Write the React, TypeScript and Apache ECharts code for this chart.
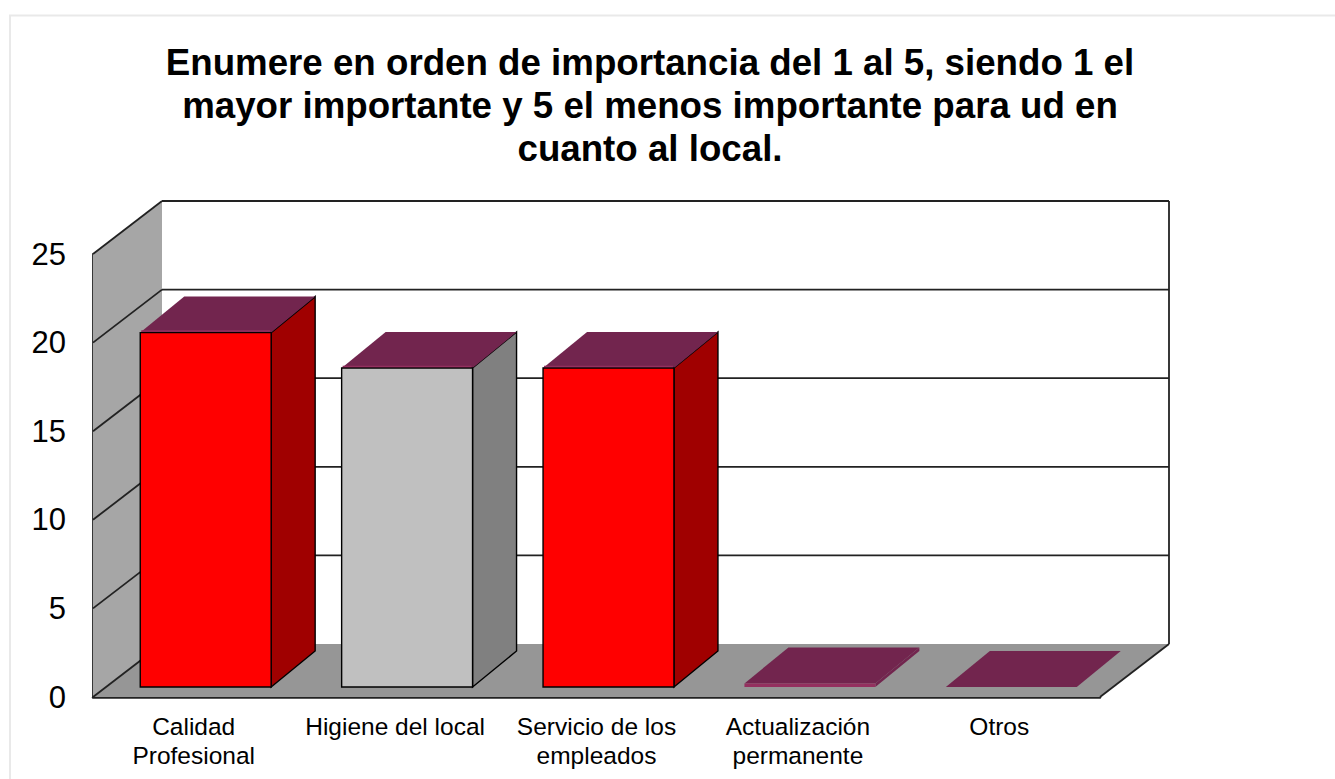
import React, { useEffect, useRef } from "react";
import * as echarts from "echarts";

const categories = ["Calidad\nProfesional", "Higiene del local", "Servicio de los\nempleados", "Actualización\npermanente", "Otros"];
const values = [20, 18, 18, 0.2, 0];
const frontColors = ["#ff0000", "#c0c0c0", "#ff0000", "#94305f", "#94305f"];
const sideColors = ["#a00000", "#808080", "#a00000", "#72254e", "#72254e"];
const yTicks = [0, 5, 10, 15, 20, 25];
const titleText = "Enumere en orden de importancia del 1 al 5, siendo 1 el\nmayor importante y 5 el menos importante para ud en\ncuanto al local.";

const FONT = "'Liberation Sans', Arial, sans-serif";
const WALL_DX = 69, WALL_DY = -53;
const BAR_DX = 44, BAR_DY = -36;
const BAR_OFF_X = 12, BAR_OFF_Y = -10;
const BAR_RATIO = 0.65;
const INK = "#222222";

function renderWalls(_: any, api: any) {
  const size = api.size([1, 0])[0];
  const c0 = api.coord([0, 0]);
  const cTop = api.coord([0, yTicks[yTicks.length - 1]]);
  const cEnd = api.coord([categories.length - 1, 0]);
  const x0 = c0[0] - size / 2;
  const x1 = cEnd[0] + size / 2;
  const y0 = c0[1];
  const yT = cTop[1];
  const children: any[] = [
    { type: "polygon", shape: { points: [[x0 + WALL_DX, yT + WALL_DY], [x1 + WALL_DX, yT + WALL_DY], [x1 + WALL_DX, y0 + WALL_DY], [x0 + WALL_DX, y0 + WALL_DY]] }, style: { fill: "#ffffff" } },
    { type: "polygon", shape: { points: [[x0, yT], [x0 + WALL_DX, yT + WALL_DY], [x0 + WALL_DX, y0 + WALL_DY], [x0, y0]] }, style: { fill: "#a6a6a6" } },
    { type: "polygon", shape: { points: [[x0, y0], [x0 + WALL_DX, y0 + WALL_DY], [x1 + WALL_DX, y0 + WALL_DY], [x1, y0]] }, style: { fill: "#969696" } },
  ];
  yTicks.forEach((t) => {
    const y = api.coord([0, t])[1];
    children.push({ type: "line", shape: { x1: x0, y1: y, x2: x0 + WALL_DX, y2: y + WALL_DY }, style: { stroke: INK, lineWidth: 1.8 } });
    if (t > 0) {
      children.push({ type: "line", shape: { x1: x0 + WALL_DX, y1: y + WALL_DY, x2: x1 + WALL_DX, y2: y + WALL_DY }, style: { stroke: INK, lineWidth: 1.8 } });
    }
  });
  children.push({ type: "line", shape: { x1: x1 + WALL_DX, y1: yT + WALL_DY, x2: x1 + WALL_DX, y2: y0 + WALL_DY }, style: { stroke: INK, lineWidth: 1.8 } });
  children.push({ type: "line", shape: { x1: x1, y1: y0, x2: x1 + WALL_DX, y2: y0 + WALL_DY }, style: { stroke: INK, lineWidth: 1.8 } });
  return { type: "group", children };
}

function renderBar(params: any, api: any) {
  const i = params.dataIndex;
  const v = api.value(1);
  const w = api.size([1, 0])[0] * BAR_RATIO;
  const base = api.coord([api.value(0), 0]);
  const top = api.coord([api.value(0), v]);
  const l = base[0] + BAR_OFF_X - w / 2;
  const r = l + w;
  const b = base[1] + BAR_OFF_Y;
  const t = top[1] + BAR_OFF_Y;
  const solid = v >= 1;
  const edge = solid ? { stroke: "#000000", lineWidth: 1.4 } : { stroke: "none" };
  const children: any[] = [
    { type: "polygon", shape: { points: [[r, b], [r + BAR_DX, b + BAR_DY], [r + BAR_DX, t + BAR_DY], [r, t]] }, style: { fill: sideColors[i], ...edge } },
    { type: "polygon", shape: { points: [[l, t], [l + BAR_DX, t + BAR_DY], [r + BAR_DX, t + BAR_DY], [r, t]] }, style: { fill: "#72254e" } },
  ];
  if (v > 0) {
    children.push({ type: "rect", shape: { x: l, y: t, width: w, height: b - t }, style: { fill: frontColors[i], ...edge } });
  }
  if (solid) {
    children.push({ type: "line", shape: { x1: l + 1, y1: t - 1.6, x2: r - 1, y2: t - 1.6 }, style: { stroke: "#94305f", lineWidth: 1.4 } });
  }
  return { type: "group", children };
}

export default function App() {
  const ref = useRef<HTMLDivElement>(null);
  useEffect(() => {
    const chart = echarts.init(ref.current!, undefined, { renderer: "svg" });
    chart.setOption({
      animation: false,
      backgroundColor: "#ffffff",
      title: {
        text: titleText,
        left: 645,
        top: 36,
        textAlign: "center",
        textStyle: { fontFamily: FONT, fontSize: 36.7, fontWeight: "bold", color: "#000000", lineHeight: 43 },
      },
      grid: { left: 93, right: 235, top: 254, bottom: 82 },
      xAxis: {
        type: "category",
        data: categories,
        axisLine: { show: true, lineStyle: { color: INK, width: 2.5 } },
        axisTick: { show: false },
        axisLabel: { interval: 0, color: "#000000", fontFamily: FONT, fontSize: 24.5, lineHeight: 29, margin: 15 },
      },
      yAxis: {
        type: "value",
        min: 0,
        max: 25,
        interval: 5,
        axisLine: { show: true, lineStyle: { color: INK, width: 1.8 } },
        axisTick: { show: false },
        splitLine: { show: false },
        axisLabel: { color: "#000000", fontFamily: FONT, fontSize: 31, margin: 27, lineHeight: 31, padding: [0, 0, 2, 0] },
      },
      graphic: [
        { type: "polyline", silent: true, shape: { points: [[10, 779], [10, 15.5], [1335, 15.5]] }, style: { stroke: "#e9e9e9", lineWidth: 2, fill: "none" } },
      ],
      series: [
        { type: "custom", data: [[0, 0]], renderItem: renderWalls, silent: true, z: 1 },
        {
          type: "custom",
          data: values.map((v, i) => [i, v]),
          encode: { x: 0, y: 1 },
          renderItem: renderBar,
          z: 2,
        },
      ],
    });
    return () => chart.dispose();
  }, []);
  return <div ref={ref} style={{ position: "absolute", left: 0, top: 0, width: 1335, height: 779 }} />;
}
